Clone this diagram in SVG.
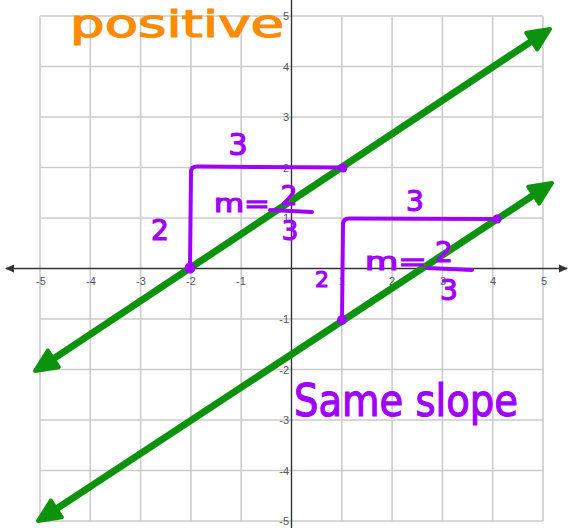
<svg xmlns="http://www.w3.org/2000/svg" width="573" height="528" viewBox="0 0 573 528">
<style>
.grid{stroke:#cccccc;stroke-width:1.6;fill:none}
.axis{stroke:#333;stroke-width:1.4;fill:none}
.tick{font-family:"Liberation Sans",Arial,sans-serif;font-size:11px;fill:#555566}
.green{stroke:#0d920d;stroke-width:7;fill:none}
.pur{stroke:#a000ff;stroke-width:4;fill:none;stroke-linecap:round;stroke-linejoin:round}
.dot{fill:#a000ff}
.hand{font-family:"DejaVu Sans","Noto Sans",sans-serif;fill:#a000ff;stroke:#a000ff;stroke-width:1.2}
.or{font-family:"DejaVu Sans","Noto Sans",sans-serif;fill:#ff8c00;stroke:#ff8c00;stroke-width:1.2}
</style>
<defs>
<marker id="ga" markerUnits="userSpaceOnUse" viewBox="-24 -14 32 28" refX="0" refY="0" markerWidth="32" markerHeight="28" orient="auto-start-reverse">
<path d="M-18,-10 L4,0 L-18,10 Z" fill="#0d920d" stroke="#0d920d" stroke-width="4" stroke-linejoin="round"/>
</marker>
<marker id="ax" markerUnits="userSpaceOnUse" viewBox="-10 -6 12 12" refX="0" refY="0" markerWidth="12" markerHeight="12" orient="auto-start-reverse">
<path d="M-8,-4 L1,0 L-8,4 Z" fill="#333"/>
</marker>
</defs>
<rect width="573" height="528" fill="#ffffff"/>
<g id="grid">
<path class="grid" d="M40,16V521M90.3,16V521M140.6,16V521M190.9,16V521M241.2,16V521M341.8,16V521M392.1,16V521M442.4,16V521M492.7,16V521M543,16V521"/>
<path class="grid" d="M40,16H543M40,66.5H543M40,117H543M40,167.5H543M40,218H543M40,319H543M40,369.5H543M40,420H543M40,470.5H543M40,521H543"/>
</g>
<g id="axes">
<line class="axis" x1="6" y1="268.5" x2="567" y2="268.5" marker-start="url(#ax)" marker-end="url(#ax)"/>
<line class="axis" x1="291.5" y1="0" x2="291.5" y2="528"/>
</g>
<g id="ticks" class="tick">
<g text-anchor="middle">
<text x="41" y="285">-5</text>
<text x="91" y="285">-4</text>
<text x="141" y="285">-3</text>
<text x="191" y="285">-2</text>
<text x="241" y="285">-1</text>
<text x="342" y="285">1</text>
<text x="392" y="285">2</text>
<text x="443" y="285">3</text>
<text x="493" y="285">4</text>
<text x="544" y="285">5</text>
</g>
<g text-anchor="end">
<text x="289" y="20">5</text>
<text x="289" y="71">4</text>
<text x="289" y="121">3</text>
<text x="289" y="172">2</text>
<text x="289" y="222">1</text>
<text x="289" y="323">-1</text>
<text x="289" y="374">-2</text>
<text x="289" y="424">-3</text>
<text x="289" y="475">-4</text>
<text x="289" y="525">-5</text>
</g>
</g>
<g id="connectors">
<line id="line1" class="green" x1="38.3" y1="368.8" x2="546.7" y2="31.2" marker-start="url(#ga)" marker-end="url(#ga)"/>
<line id="line2" class="green" x1="41.3" y1="518.8" x2="548.7" y2="185.2" marker-start="url(#ga)" marker-end="url(#ga)"/>
</g>
<g id="triangle1">
<path class="pur" d="M190,268 L191,172 Q191,166.5 197,166.5 L343,167.5"/>
<circle class="dot" cx="190" cy="268" r="5.5"/>
<circle class="dot" cx="343" cy="168" r="4.5"/>
<text class="hand" x="238" y="155" font-size="30" text-anchor="middle">3</text>
<text class="hand" x="160" y="240" font-size="28" text-anchor="middle">2</text>
<text class="hand" x="214" y="212" font-size="24" textLength="56" lengthAdjust="spacingAndGlyphs">m=</text>
<text class="hand" x="289" y="205" font-size="26" text-anchor="middle">2</text>
<path class="pur" d="M270,210 L312,212"/>
<text class="hand" x="290" y="240" font-size="26" text-anchor="middle">3</text>
</g>
<g id="triangle2">
<path class="pur" d="M342,320 L343,224 Q343.5,218.5 349,218.5 L497,219"/>
<circle class="dot" cx="342" cy="320" r="5"/>
<circle class="dot" cx="497" cy="219" r="4.5"/>
<text class="hand" x="415" y="211" font-size="28" text-anchor="middle">3</text>
<text class="hand" x="322" y="287" font-size="22" text-anchor="middle">2</text>
<text class="hand" x="365" y="270" font-size="24" textLength="62" lengthAdjust="spacingAndGlyphs">m=</text>
<text class="hand" x="444" y="262" font-size="28" text-anchor="middle">2</text>
<path class="pur" d="M427,268 L472,270"/>
<text class="hand" x="449" y="300" font-size="28" text-anchor="middle">3</text>
</g>
<g id="same-slope">
<text class="hand" x="294" y="416" font-size="44" textLength="224" lengthAdjust="spacingAndGlyphs">Same slope</text>
</g>
<g id="positive">
<text class="or" x="70" y="37" font-size="38" textLength="214" lengthAdjust="spacingAndGlyphs">positive</text>
</g>
</svg>
